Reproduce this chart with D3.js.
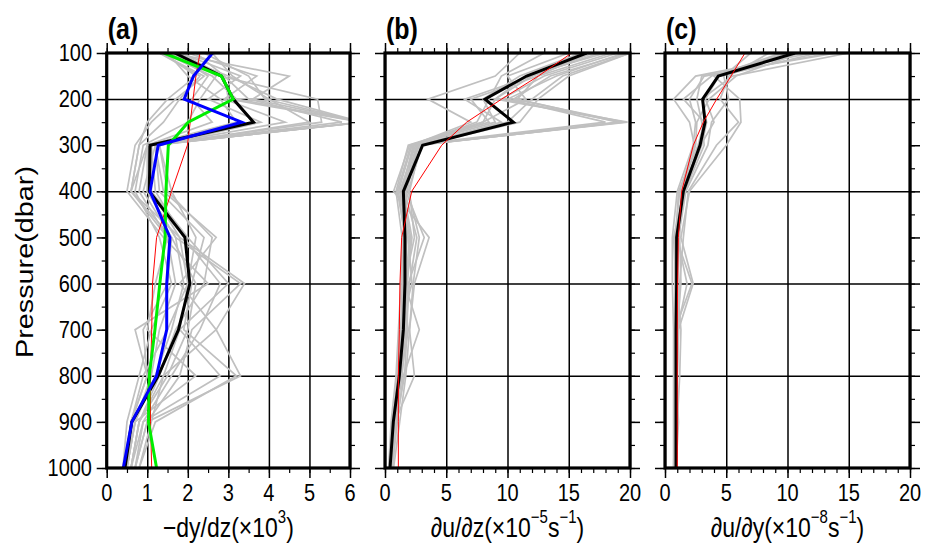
<!DOCTYPE html>
<html>
<head>
<meta charset="utf-8">
<script src="https://cdn.jsdelivr.net/npm/d3@7"></script>
<style>
body { margin: 0; background: #fff; }
text { font-family: "Liberation Sans", Arial, Helvetica, sans-serif; fill: #000; }
</style>
</head>
<body>
<div id="chart"></div>
<script>
// pressure levels (dbar) shared by every profile
var levels = [100, 150, 200, 250, 300, 400, 500, 600, 700, 800, 900, 1000];
var yTicks = [100, 200, 300, 400, 500, 600, 700, 800, 900, 1000];

// panel (a) -dy/dz (x10^3)
var blackA = [1.68, 2.83, 3.12, 3.62, 1.07, 1.05, 1.93, 2.05, 1.77, 1.27, 0.62, 0.45];
var greenA = [1.41, 2.83, 3.12, 2.01, 1.52, 1.46, 1.44, 1.31, 1.19, 1.05, 1.03, 1.23];
var blueA  = [2.61, 2.14, 1.91, 3.33, 1.27, 1.07, 1.56, 1.48, 1.48, 1.23, 0.62, 0.41];
var redA   = [2.30, 2.20, 2.13, 2.06, 1.99, 1.60, 1.23, 1.13, 1.11, 1.08, 1.08, 1.11];
var grayA = [
  [1.4, 2.6, 3.2, 6.3, 1.1, 1.0, 1.7, 1.9, 1.6, 1.2, 0.7, 0.5],
  [1.5, 3.0, 4.2, 6.3, 1.2, 0.9, 1.6, 2.2, 2.0, 1.5, 0.8, 0.6],
  [1.7, 2.8, 5.2, 5.3, 1.1, 1.1, 2.0, 3.0, 1.8, 2.8, 0.9, 0.6],
  [1.6, 4.5, 3.6, 6.3, 1.0, 0.6, 1.8, 3.4, 2.7, 3.3, 1.0, 0.7],
  [1.3, 2.4, 1.7, 1.1, 0.7, 0.5, 1.4, 2.5, 0.7, 1.0, 0.6, 0.4],
  [1.4, 2.2, 1.5, 1.0, 0.8, 0.6, 1.5, 1.2, 1.0, 2.2, 0.7, 0.5],
  [2.0, 3.7, 2.9, 4.4, 1.2, 1.4, 2.7, 1.8, 2.7, 1.4, 1.1, 0.8],
  [1.8, 3.3, 2.5, 3.8, 1.3, 1.6, 2.2, 2.0, 1.5, 0.9, 0.6, 0.5],
  [2.2, 2.9, 3.5, 5.8, 1.1, 1.2, 1.9, 2.8, 2.3, 1.6, 0.9, 0.7],
  [1.5, 2.0, 2.8, 3.2, 1.0, 0.8, 1.5, 1.7, 1.3, 1.1, 0.7, 0.5],
  [2.4, 3.5, 3.9, 6.3, 1.2, 1.3, 2.4, 2.1, 1.9, 3.2, 1.2, 0.8],
  [1.9, 2.7, 2.3, 2.0, 0.9, 0.7, 1.3, 1.6, 1.1, 0.8, 0.5, 0.4],
  [2.6, 3.1, 4.0, 5.0, 1.3, 1.5, 2.6, 2.4, 1.7, 1.3, 0.8, 0.6],
  [1.6, 2.5, 2.1, 2.6, 1.0, 1.0, 1.7, 3.3, 2.1, 1.8, 1.0, 0.7],
  [1.8, 2.9, 3.0, 6.3, 1.1, 1.1, 1.8, 2.0, 1.8, 1.4, 0.8, 0.6],
  [1.3, 2.3, 1.8, 1.4, 0.8, 0.6, 1.6, 1.5, 0.9, 1.0, 0.6, 0.5]
];

// panel (b) du/dz (x10^-5 s^-1)
var blackB = [16.46, 11.56, 8.16, 10.48, 3.07, 1.50, 1.63, 1.63, 1.50, 1.17, 0.68, 0.41];
var redB   = [15.24, 12.52, 9.52, 6.67, 4.63, 2.18, 1.36, 1.22, 1.17, 1.09, 1.09, 1.09];
var grayB = [
  [17.5, 12.0, 9.0, 19.8, 2.5, 1.2, 1.8, 1.6, 1.4, 1.1, 0.6, 0.4],
  [19.8, 13.5, 10.5, 19.5, 2.8, 1.5, 2.2, 1.8, 1.6, 1.3, 0.7, 0.5],
  [16.0, 11.0, 8.0, 9.0, 2.3, 1.4, 2.0, 1.7, 1.5, 1.2, 0.7, 0.4],
  [18.5, 12.5, 7.0, 8.5, 2.0, 0.7, 3.6, 2.4, 2.0, 2.4, 0.8, 0.5],
  [20.0, 14.5, 12.0, 10.0, 2.6, 1.8, 1.5, 1.4, 1.9, 1.3, 0.9, 0.6],
  [11.0, 9.0, 3.5, 7.0, 2.2, 1.1, 1.6, 1.5, 1.3, 1.1, 0.6, 0.4],
  [19.0, 13.0, 9.5, 19.3, 2.7, 1.6, 2.6, 2.0, 1.7, 1.4, 0.8, 0.5],
  [15.0, 10.0, 11.5, 8.0, 2.4, 1.3, 1.9, 2.2, 1.2, 1.0, 0.7, 0.4],
  [17.0, 12.0, 6.5, 9.5, 2.9, 2.0, 2.4, 1.6, 2.8, 1.5, 1.0, 0.6],
  [19.5, 14.0, 10.0, 18.0, 2.1, 1.0, 1.7, 1.4, 1.3, 1.2, 0.6, 0.3],
  [13.0, 9.5, 8.5, 7.5, 2.3, 1.7, 3.2, 1.9, 1.8, 1.6, 0.9, 0.6],
  [20.0, 15.0, 12.5, 11.0, 3.0, 1.9, 2.8, 2.3, 2.0, 1.7, 1.2, 0.7],
  [18.0, 11.5, 9.0, 8.0, 1.9, 0.9, 1.4, 1.3, 1.1, 0.9, 0.5, 0.3],
  [16.5, 12.5, 10.8, 19.0, 2.6, 1.4, 2.1, 1.8, 1.5, 1.3, 0.8, 0.5]
];

// panel (c) du/dy (x10^-8 s^-1)
var blackC = [10.61, 4.35, 3.07, 3.27, 2.86, 1.50, 0.95, 0.95, 0.90, 0.90, 0.90, 0.90];
var redC   = [6.53, 5.39, 4.22, 3.13, 2.31, 1.36, 1.09, 1.03, 1.00, 1.00, 1.00, 1.00];
var grayC = [
  [15.0, 5.5, 3.0, 3.4, 3.0, 1.5, 1.0, 1.0, 0.9, 0.9, 0.9, 0.9],
  [12.0, 2.5, 0.7, 2.0, 2.4, 1.2, 0.8, 0.8, 0.8, 0.8, 0.8, 0.8],
  [9.5, 4.0, 6.1, 6.2, 5.0, 2.0, 1.3, 2.3, 1.1, 1.0, 0.9, 0.8],
  [13.5, 3.2, 2.0, 2.5, 2.3, 1.0, 0.6, 0.6, 0.7, 0.7, 0.7, 0.7],
  [7.0, 4.8, 5.2, 3.8, 3.5, 1.7, 1.1, 1.0, 1.3, 1.2, 1.0, 0.9],
  [11.0, 5.8, 3.6, 2.6, 2.5, 1.4, 1.0, 1.8, 1.0, 0.9, 0.8, 0.8],
  [14.0, 3.0, 2.6, 3.0, 3.2, 1.6, 0.7, 0.9, 0.8, 0.9, 1.1, 0.9],
  [8.5, 5.2, 4.5, 6.0, 4.2, 1.9, 1.5, 1.2, 1.1, 1.0, 0.9, 0.9],
  [10.0, 3.8, 1.5, 3.2, 2.7, 1.1, 0.9, 2.2, 0.8, 0.8, 0.8, 0.7],
  [12.5, 4.4, 3.3, 4.0, 2.9, 1.3, 1.2, 1.3, 1.0, 0.9, 0.9, 0.8]
];

var xTicksA = [0, 1, 2, 3, 4, 5, 6];
var xTicksBC = [0, 5, 10, 15, 20];

var svg = d3.select("#chart").append("svg")
    .attr("width", 935)
    .attr("height", 544);

var top_ = 53, bottom = 468;
var y = d3.scaleLinear().domain([100, 1000]).range([top_, bottom]);

// stretched text, the figure's lettering is tall and narrow
function label(x, yy, str, size, anchor, weight) {
    return svg.append("text")
        .attr("transform", "translate(" + x + "," + yy + ") scale(1,1.2)")
        .attr("text-anchor", anchor || "middle")
        .attr("dominant-baseline", "central")
        .style("font-size", size + "px")
        .style("font-weight", weight || "normal")
        .text(str);
}

function styleAxis(g, width) {
    g.select(".domain").remove();
    g.selectAll("line").attr("stroke", "#000").attr("stroke-width", width);
}

function drawPanel(p) {
    var x = d3.scaleLinear().domain([0, p.xmax]).range([p.left, p.right]);
    var w = p.right - p.left, h = bottom - top_;

    svg.append("clipPath").attr("id", "clip" + p.name)
        .append("rect").attr("x", p.left).attr("y", top_).attr("width", w).attr("height", h);

    // grid
    svg.append("g").attr("transform", "translate(0," + bottom + ")")
        .call(d3.axisBottom(x).tickValues(p.grid).tickSize(-h).tickFormat(""))
        .call(styleAxis, 1.5);
    svg.append("g").attr("transform", "translate(" + p.left + ",0)")
        .call(d3.axisLeft(y).tickValues([200, 400, 600, 800]).tickSize(-w).tickFormat(""))
        .call(styleAxis, 1.5);

    // ticks on all four sides, outward
    var minorX = d3.range(0, p.xmax + 1e-9, p.minor);
    var minorY = d3.range(100, 1001, 50);
    [[d3.axisBottom, "translate(0," + bottom + ")"], [d3.axisTop, "translate(0," + top_ + ")"]].forEach(function(a) {
        svg.append("g").attr("transform", a[1])
            .call(a[0](x).tickValues(minorX).tickSize(5).tickFormat("")).call(styleAxis, 1.2);
        svg.append("g").attr("transform", a[1])
            .call(a[0](x).tickValues(p.grid).tickSize(10).tickFormat("")).call(styleAxis, 1.5);
    });
    [[d3.axisLeft, "translate(" + p.left + ",0)"], [d3.axisRight, "translate(" + p.right + ",0)"]].forEach(function(a) {
        svg.append("g").attr("transform", a[1])
            .call(a[0](y).tickValues(minorY).tickSize(5).tickFormat("")).call(styleAxis, 1.2);
        svg.append("g").attr("transform", a[1])
            .call(a[0](y).tickValues(yTicks).tickSize(10).tickFormat("")).call(styleAxis, 1.5);
    });

    var line = d3.line()
        .x(function(d) { return x(d[0]); })
        .y(function(d) { return y(d[1]); });
    var pair = function(vals) { return vals.map(function(v, i) { return [v, levels[i]]; }); };

    var lines = svg.append("g").attr("clip-path", "url(#clip" + p.name + ")");
    lines.selectAll(".gray")
        .data(p.gray)
        .enter().append("path")
        .attr("class", "gray")
        .attr("d", function(d) { return line(pair(d)); })
        .attr("fill", "none")
        .attr("stroke", "#c0c0c0")
        .attr("stroke-width", 1.7);

    p.series.forEach(function(s) {
        lines.append("path")
            .attr("d", line(pair(s.values)))
            .attr("fill", "none")
            .attr("stroke", s.color)
            .attr("stroke-width", s.width)
            .attr("stroke-linejoin", "miter");
    });

    // frame
    svg.append("rect")
        .attr("x", p.left).attr("y", top_).attr("width", w).attr("height", h)
        .attr("fill", "none").attr("stroke", "#000").attr("stroke-width", 3.2);

    p.labels.forEach(function(v) { label(x(v), 493, v, 20); });
    label(p.left + 1, 29, "(" + p.name + ")", 25, "start", "bold");

    var t = label((p.left + p.right) / 2, 527, "", 23);
    p.title.forEach(function(part) {
        var ts = t.append("tspan").text(part[0]);
        if (part[1] == "sup") ts.attr("dy", -9).style("font-size", "15px");
        if (part[1] == "down") ts.attr("dy", 9);
    });
}

drawPanel({
    name: "a", left: 106.7, right: 350, xmax: 6, minor: 0.5, grid: xTicksA, labels: xTicksA,
    gray: grayA,
    series: [
        {values: blackA, color: "#000", width: 3},
        {values: redA, color: "#ff0000", width: 1},
        {values: greenA, color: "#00ee00", width: 3},
        {values: blueA, color: "#0000ff", width: 3}
    ],
    title: [["\u2212dy/dz(\u00d710"], ["3", "sup"], [")", "down"]]
});
drawPanel({
    name: "b", left: 385, right: 630, xmax: 20, minor: 1, grid: xTicksBC, labels: xTicksBC,
    gray: grayB,
    series: [
        {values: blackB, color: "#000", width: 3},
        {values: redB, color: "#ff0000", width: 1}
    ],
    title: [["\u2202u/\u2202z(\u00d710"], ["\u22125", "sup"], ["s", "down"], ["\u22121", "sup"], [")", "down"]]
});
drawPanel({
    name: "c", left: 665, right: 910, xmax: 20, minor: 1, grid: xTicksBC, labels: xTicksBC,
    gray: grayC,
    series: [
        {values: blackC, color: "#000", width: 3},
        {values: redC, color: "#ff0000", width: 1}
    ],
    title: [["\u2202u/\u2202y(\u00d710"], ["\u22128", "sup"], ["s", "down"], ["\u22121", "sup"], [")", "down"]]
});

// pressure tick labels on panel (a) only
yTicks.forEach(function(v) { label(92, y(v), v, 20, "end"); });

svg.append("text")
    .attr("transform", "translate(25,262) rotate(-90) scale(1.2,1)")
    .attr("text-anchor", "middle")
    .attr("dominant-baseline", "central")
    .style("font-size", "24px")
    .text("Pressure(dbar)");
</script>
</body>
</html>
